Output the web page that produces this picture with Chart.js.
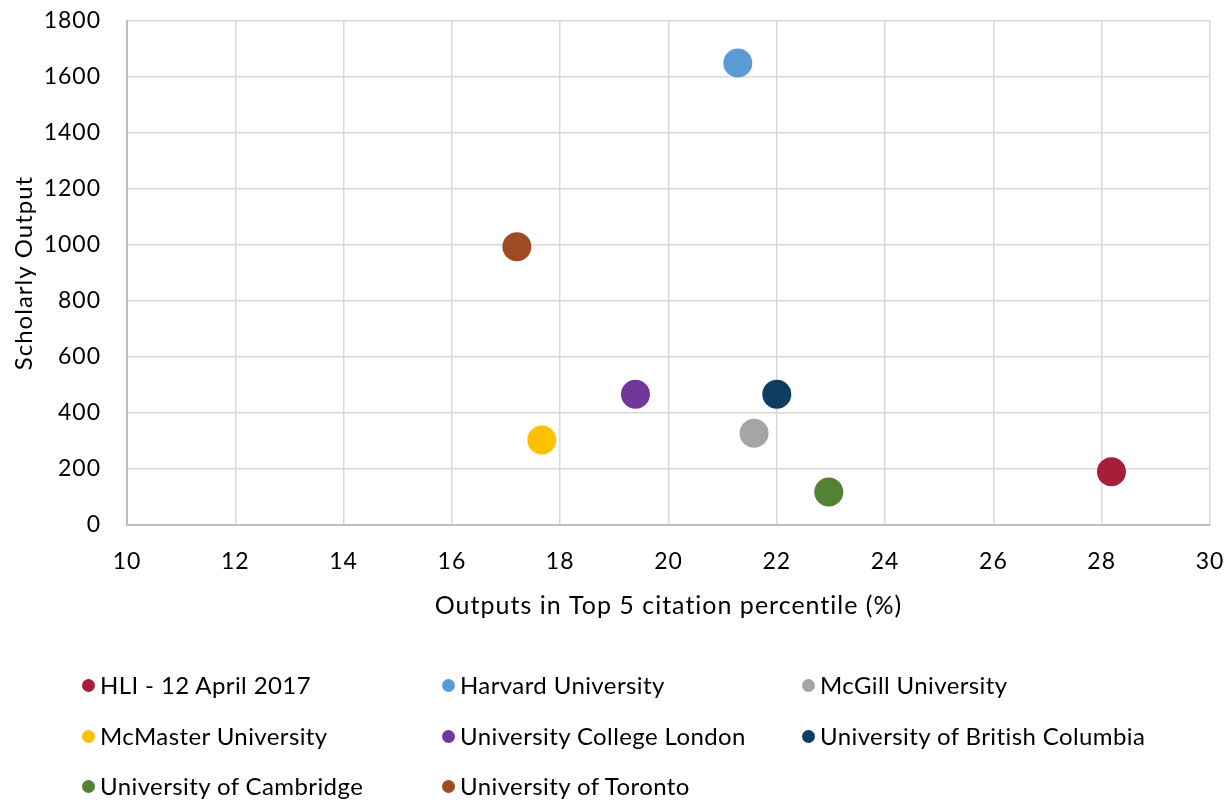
<!DOCTYPE html>
<html>
<head>
<meta charset="utf-8">
<script src="https://cdn.jsdelivr.net/npm/chart.js@4"></script>
<style>
  html, body { margin: 0; padding: 0; background: #fff; }
  #wrap { position: relative; width: 1232px; height: 800px; }
  #legend { position: absolute; left: 0; top: 0; width: 1232px; height: 800px; pointer-events: none; }
  .item { position: absolute; font-family: Lato, "Open Sans", sans-serif; font-size: 24px; color: #000; white-space: nowrap; line-height: 28px; letter-spacing: 0.4px; }
  .dot { position: absolute; width: 13px; height: 13px; border-radius: 50%; }
</style>
</head>
<body>
<div id="wrap">
  <canvas id="c" width="1232" height="800"></canvas>
  <div id="legend"></div>
</div>
<script>
const institutions = ["HLI - 12 April 2017", "Harvard University", "McGill University", "McMaster University", "University College London", "University of British Columbia", "University of Cambridge", "University of Toronto"];
const topCitationPct = [28.18, 21.28, 21.58, 17.66, 19.39, 22.0, 22.96, 17.2];
const scholarlyOutput = [190, 1650, 328, 304, 467, 467, 118, 994];
const colors = ["#A61E38", "#5B9BD5", "#A5A5A5", "#FFC000", "#70389A", "#0D3D63", "#548235", "#9E4A22"];
const xTicks = [10, 12, 14, 16, 18, 20, 22, 24, 26, 28, 30];
const yTicks = [0, 200, 400, 600, 800, 1000, 1200, 1400, 1600, 1800];

const FONT = "Lato, 'Open Sans', sans-serif";

const datasets = institutions.map((name, i) => ({
  label: name,
  data: [{ x: topCitationPct[i], y: scholarlyOutput[i] }],
  backgroundColor: colors[i],
  borderColor: colors[i],
  pointRadius: 14.5,
  pointHoverRadius: 14.5,
  borderWidth: 0
}));

const spacing = {
  id: "spacing",
  beforeDraw(chart) { chart.ctx.letterSpacing = "1px"; },
  afterDraw(chart) { chart.ctx.letterSpacing = "0px"; }
};

new Chart(document.getElementById("c"), {
  type: "scatter",
  data: { datasets },
  plugins: [spacing],
  options: {
    responsive: false,
    animation: false,
    layout: { autoPadding: false, padding: { left: 0, right: 22, top: 21, bottom: 175 } },
    plugins: { legend: { display: false }, tooltip: { enabled: false } },
    scales: {
      x: {
        type: "linear",
        min: xTicks[0],
        max: xTicks[xTicks.length - 1],
        afterBuildTicks: (s) => { s.ticks = xTicks.map(v => ({ value: v })); },
        afterFit: (s) => { s.height = 100; },
        grid: { color: "#D9D9D9", lineWidth: 1.5, drawTicks: true, tickLength: 23, tickColor: "rgba(0,0,0,0)" },
        border: { color: "#BFBFBF", width: 2 },
        ticks: { padding: 0, color: "#000", font: { family: FONT, size: 23 }, callback: (v) => String(v) },
        title: { display: true, text: "Outputs in Top 5 citation percentile (%)", color: "#000", font: { family: FONT, size: 25 }, padding: { top: 4, bottom: 4 } }
      },
      y: {
        type: "linear",
        min: yTicks[0],
        max: yTicks[yTicks.length - 1],
        afterBuildTicks: (s) => { s.ticks = yTicks.map(v => ({ value: v })); },
        afterFit: (s) => { s.width = 127; },
        grid: { color: "#D9D9D9", lineWidth: 1.5, drawTicks: true, tickLength: 26, tickColor: "rgba(0,0,0,0)" },
        border: { color: "#BFBFBF", width: 2 },
        ticks: { padding: 0, color: "#000", font: { family: FONT, size: 23 }, callback: (v) => String(v) },
        title: { display: true, text: "Scholarly Output", color: "#000", font: { family: FONT, size: 24 }, padding: { top: 10, bottom: 4 } }
      }
    }
  }
});

// HTML legend built from the same arrays
const legend = document.getElementById("legend");
const colX = [82, 442, 802];
const rowY = [685, 736, 786];
institutions.forEach((name, i) => {
  const col = i % 3, row = Math.floor(i / 3);
  const dot = document.createElement("div");
  dot.className = "dot";
  dot.style.background = colors[i];
  dot.style.left = colX[col] + "px";
  dot.style.top = (rowY[row] - 6) + "px";
  legend.appendChild(dot);
  const t = document.createElement("div");
  t.className = "item";
  t.textContent = name;
  t.style.left = (colX[col] + 18) + "px";
  t.style.top = (rowY[row] - 14) + "px";
  legend.appendChild(t);
});
</script>
</body>
</html>
